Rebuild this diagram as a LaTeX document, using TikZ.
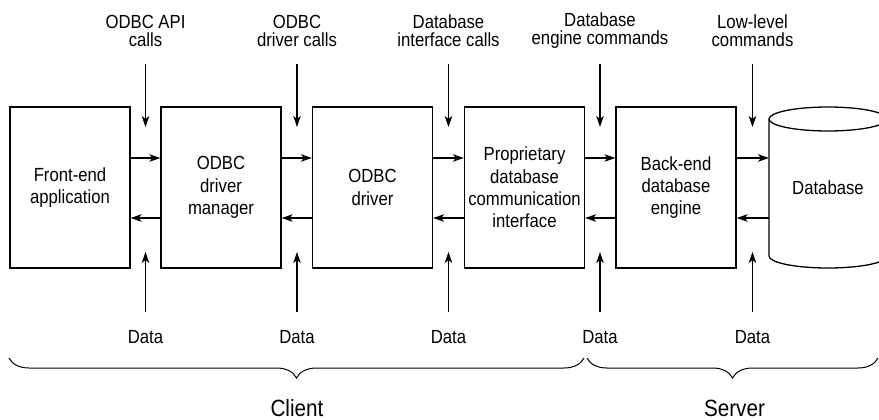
\documentclass[tikz,border=0pt]{standalone}
\usepackage{fontspec}
\setmainfont[FakeStretch=0.88]{Liberation Sans}
\usetikzlibrary{arrows.meta,decorations.pathreplacing}
\begin{document}
\begin{tikzpicture}[x=1pt,y=-1pt,
  every node/.style={font=\fontsize{19}{22.3}\selectfont, inner sep=0pt},
  blk/.style={draw, line width=1.3pt, minimum width=120pt, minimum height=161pt, align=center},
  lbl/.style={align=center, font=\fontsize{19}{18}\selectfont},
  dat/.style={anchor=base},
  arr/.style={line width=1.2pt, -{Stealth[length=11pt,width=7.5pt,inset=3pt]}},
  brc/.style={line width=1pt, decorate, decoration={brace, mirror, amplitude=20pt}},
  big/.style={anchor=base, font=\fontsize{23.5}{26}\selectfont}]
\useasboundingbox (0,0) rectangle (879,420);

% boxes
\node[blk] (b1) at (70,187.5) {Front-end\\application};
\node[blk] (b2) at (221,187.5) {ODBC\\driver\\manager};
\node[blk] (b3) at (372.5,187.5) {ODBC\\driver};
\node[blk] (b4) at (524.5,187.5) {Proprietary\\database\\communication\\interface};
\node[blk] (b5) at (676,187.5) {Back-end\\database\\engine};

% cylinder
\draw[line width=1.3pt] (769,119) -- (769,256) arc[start angle=180, end angle=360, x radius=59, y radius=-12] -- (887,119);
\draw[line width=1.3pt] (828,119) ellipse[x radius=59, y radius=12];
\node (db) at (828,187.5) {Database};
\coordinate (dbw) at (769,187.5);

% horizontal arrows
\foreach \a/\b in {b1/b2,b2/b3,b3/b4,b4/b5}{
  \draw[arr] ([yshift=29.5pt]\a.east) -- ([yshift=29.5pt]\b.west);
  \draw[arr] ([yshift=-30.5pt]\b.west) -- ([yshift=-30.5pt]\a.east);
}
\draw[arr] ([yshift=29.5pt]b5.east) -- ([yshift=29.5pt]dbw);
\draw[arr] ([yshift=-30.5pt]dbw) -- ([yshift=-30.5pt]b5.east);

% top labels and down arrows
\node[lbl] (t1) at (145.5,31) {ODBC API\\calls};
\node[lbl] (t2) at (297,31) {ODBC\\driver calls};
\node[lbl] (t3) at (448.5,31) {Database\\interface calls};
\node[lbl] (t4) at (600,31) {Database\\engine commands};
\node[lbl] (t5) at (752.5,31) {Low-level\\commands};

% bottom labels and up arrows
\node[dat] (d1) at (145.5,343) {Data};
\node[dat] (d2) at (297,343) {Data};
\node[dat] (d3) at (448.5,343) {Data};
\node[dat] (d4) at (600,343) {Data};
\node[dat] (d5) at (752.5,343) {Data};

\foreach \i in {1,...,5}{
  \draw[arr] (t\i.south |- 0,64) -- (t\i.south |- 0,127);
  \draw[arr] (d\i.north |- 0,312) -- (d\i.north |- 0,252);
}

% braces
\coordinate (cl1) at (9,358);
\coordinate (cl2) at (584,358);
\coordinate (sv1) at (587,358);
\coordinate (sv2) at (878,358);
\draw[brc] (cl1) -- (cl2);
\draw[brc] (sv1) -- (sv2);
\node[big] (client) at (297,416.5) {Client};
\node[big] (server) at (734.5,416.5) {Server};
\end{tikzpicture}
\end{document}
